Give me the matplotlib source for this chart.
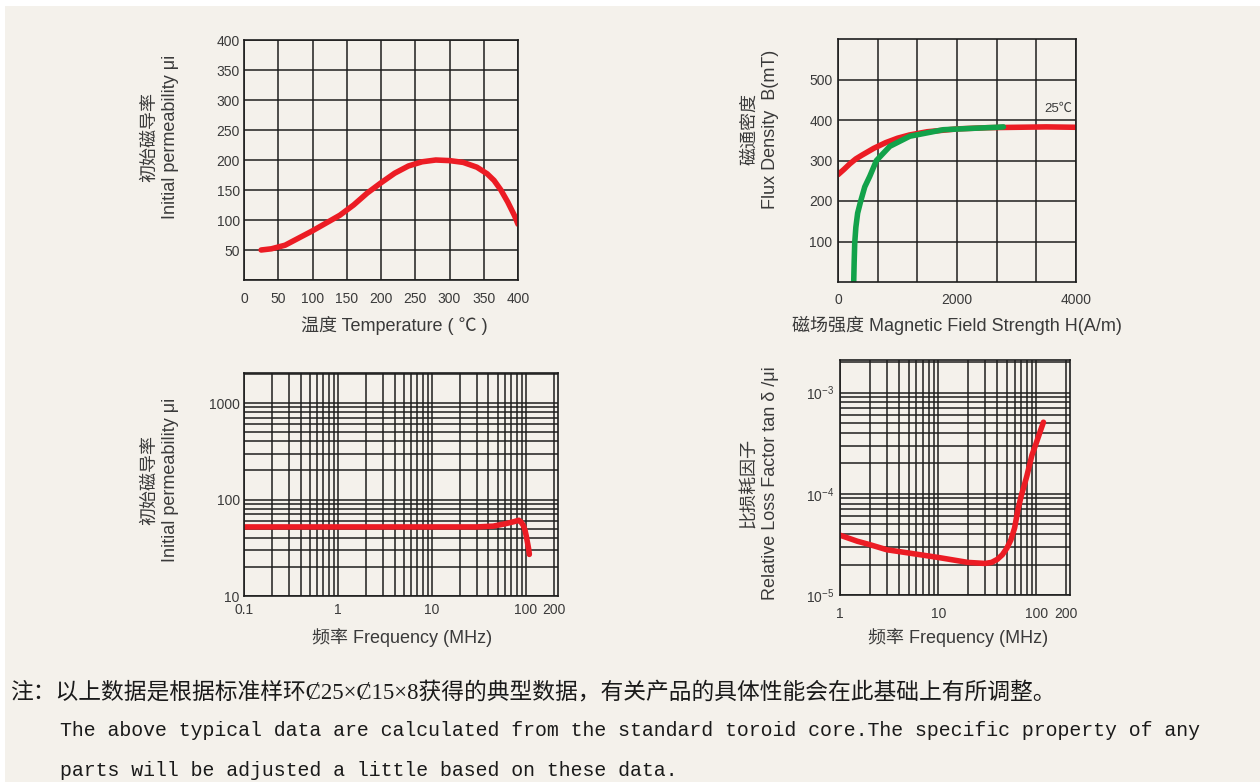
import matplotlib
matplotlib.use("Agg")
import matplotlib.pyplot as plt
from matplotlib.patches import Rectangle
from matplotlib.ticker import FixedLocator, LogLocator, NullFormatter, MultipleLocator

plt.rcParams["font.family"] = ["Liberation Sans", "Noto Sans CJK SC", "DejaVu Sans"]
plt.rcParams["mathtext.fontset"] = "custom"
plt.rcParams["mathtext.rm"] = "Liberation Sans"
plt.rcParams["mathtext.it"] = "Liberation Sans:italic"

W, H = 1260, 782
BG = "#f4f1eb"
GRID = "#1e1e1e"
TXT = "#3a3a3a"
RED = "#ec1c24"
GREEN = "#12a24a"

# permeability vs temperature
temp_c = [25, 40, 60, 80, 100, 120, 140, 160, 180, 200, 220, 240, 260, 280, 300,
          320, 340, 355, 365, 375, 385, 395, 400]
mu_temp = [50, 52, 58, 70, 82, 95, 108, 125, 145, 162, 178, 190, 197, 200, 199,
           196, 188, 177, 166, 150, 130, 107, 93]

# B-H curves at 25C
h_red = [0, 100, 200, 300, 400, 600, 800, 1000, 1200, 1500, 2000, 2500, 3000, 3500, 4000]
b_red = [265, 278, 292, 304, 313, 330, 344, 355, 363, 371, 378, 381, 382, 383, 382]
h_green = [264, 272, 281, 300, 330, 382, 450, 534, 646, 871, 1208, 1770, 2200, 2668, 2780]
b_green = [0, 50, 96, 135, 170, 200, 235, 261, 300, 335, 360, 376, 379, 382, 383]

# permeability vs frequency
freq_mu = [0.1, 1, 10, 30, 45, 60, 75, 84, 88, 94, 98, 101, 104, 107, 109]
mu_freq = [52, 52, 52, 52, 53, 56, 59, 61, 59, 54, 48, 42, 36, 31, 27]

# relative loss factor vs frequency
freq_loss = [1, 1.5, 2, 3, 5, 10, 20, 30, 35, 40, 45, 50, 55, 60, 65, 70, 75, 80, 90, 100, 110, 118]
loss = [3.9e-5, 3.4e-5, 3.15e-5, 2.8e-5, 2.6e-5, 2.35e-5, 2.1e-5, 2.05e-5, 2.1e-5, 2.25e-5,
        2.5e-5, 2.9e-5, 3.5e-5, 4.6e-5, 7.0e-5, 9.5e-5, 1.2e-4, 1.5e-4, 2.4e-4, 3.2e-4, 4.2e-4, 5.1e-4]

fig = plt.figure(figsize=(W / 100, H / 100), dpi=100, facecolor="white")
fig.patches.append(Rectangle((5 / W, 0), 1, 1 - 6 / H, transform=fig.transFigure,
                             facecolor=BG, edgecolor="none", zorder=-10))


def px_axes(left, top, right, bottom):
    ax = fig.add_axes([left / W, 1 - bottom / H, (right - left) / W, (bottom - top) / H])
    ax.set_facecolor(BG)
    for sp in ax.spines.values():
        sp.set_color(GRID)
        sp.set_linewidth(1.2)
    ax.tick_params(which="both", length=0, labelsize=10, labelcolor=TXT)
    return ax


def px_text(x, y, s, **kw):
    kw.setdefault("color", TXT)
    kw.setdefault("ha", "center")
    kw.setdefault("va", "center")
    fig.text(x / W, 1 - y / H, s, **kw)


line_kw = dict(linewidth=4.0, solid_capstyle="round", solid_joinstyle="round")
grid_kw = dict(color=GRID, linewidth=1.1)

# top left
ax1 = px_axes(244, 40, 518, 280)
ax1.set_xlim(0, 400)
ax1.set_ylim(0, 400)
ax1.xaxis.set_major_locator(MultipleLocator(50))
ax1.set_yticks(range(50, 401, 50))
ax1.yaxis.set_minor_locator(FixedLocator([0]))
ax1.grid(True, which="both", **grid_kw)
ax1.tick_params(axis="x", pad=9)
ax1.tick_params(axis="y", pad=3)
ax1.plot(temp_c, mu_temp, color=RED, **line_kw)
px_text(160, 137, "初始磁导率\nInitial permeability μi", rotation=90, fontsize=13, linespacing=1.25)
px_text(394, 325, "温度 Temperature ( ℃ )", fontsize=13)

# top right
ax2 = px_axes(838, 39, 1076, 282)
ax2.set_xlim(0, 4000)
ax2.set_ylim(0, 600)
ax2.set_xticks([0, 2000, 4000])
ax2.xaxis.set_minor_locator(FixedLocator([4000 / 6 * k for k in range(1, 6)]))
ax2.set_yticks([100, 200, 300, 400, 500])
ax2.grid(True, which="both", **grid_kw)
ax2.tick_params(axis="x", pad=8)
ax2.tick_params(axis="y", pad=4)
ax2.plot(h_red, b_red, color=RED, **line_kw)
ax2.plot(h_green, b_green, color=GREEN, **line_kw)
ax2.text(3700, 427, "25℃", fontsize=9.5, color=TXT, ha="center", va="center")
px_text(760, 129, "磁通密度\nFlux Density  B(mT)", rotation=90, fontsize=13, linespacing=1.25)
px_text(957, 325, "磁场强度 Magnetic Field Strength H(A/m)", fontsize=13)

# bottom left
ax3 = px_axes(244, 373, 558, 596)
ax3.set_xscale("log")
ax3.set_yscale("log")
ax3.set_xlim(0.1, 220)
ax3.set_ylim(10, 2050)
ax3.set_xticks([0.1, 1, 10, 100, 200])
ax3.set_xticklabels(["0.1", "1", "10", "100", "200"])
ax3.set_yticks([10, 100, 1000])
ax3.set_yticklabels(["10", "100", "1000"])
for a in (ax3.xaxis, ax3.yaxis):
    a.set_minor_locator(LogLocator(base=10, subs=range(2, 10), numticks=20))
    a.set_minor_formatter(NullFormatter())
ax3.grid(True, which="both", **grid_kw)
ax3.tick_params(axis="x", pad=5)
ax3.tick_params(axis="y", pad=3)
ax3.plot(freq_mu, mu_freq, color=RED, **line_kw)
px_text(160, 480, "初始磁导率\nInitial permeability μi", rotation=90, fontsize=13, linespacing=1.25)
px_text(402, 638, "频率 Frequency (MHz)", fontsize=13)

# bottom right
ax4 = px_axes(840, 360, 1070, 595)
ax4.set_xscale("log")
ax4.set_yscale("log")
ax4.set_xlim(1, 220)
ax4.set_ylim(1e-5, 2.1e-3)
ax4.set_xticks([1, 10, 100, 200])
ax4.set_xticklabels(["1", "10", "100", "200"])
ax4.set_yticks([1e-5, 1e-4, 1e-3])
ax4.set_yticklabels([r"$10^{-5}$", r"$10^{-4}$", r"$10^{-3}$"])
for a in (ax4.xaxis, ax4.yaxis):
    a.set_minor_locator(LogLocator(base=10, subs=range(2, 10), numticks=20))
    a.set_minor_formatter(NullFormatter())
ax4.grid(True, which="both", **grid_kw)
ax4.tick_params(axis="x", pad=9)
ax4.tick_params(axis="y", pad=4)
ax4.plot(freq_loss, loss, color=RED, **line_kw)
px_text(760, 483, "比损耗因子\nRelative Loss Factor tan δ /μi", rotation=90, fontsize=13, linespacing=1.25)
px_text(958, 638, "频率 Frequency (MHz)", fontsize=13)

# note below the charts
note_cn = "注：以上数据是根据标准样环Ȼ25×Ȼ15×8获得的典型数据，有关产品的具体性能会在此基础上有所调整。"
note_en1 = "The above typical data are calculated from the standard toroid core.The specific property of any"
note_en2 = "parts will be adjusted a little based on these data."
px_text(10, 692, note_cn, ha="left", fontsize=16.4, color="#1a1a1a",
        family=["Liberation Serif", "Noto Sans CJK SC", "DejaVu Sans"])
px_text(60, 731, note_en1, ha="left", fontsize=14.3, color="#1a1a1a",
        family=["Liberation Mono", "Noto Sans CJK SC"])
px_text(60, 770, note_en2, ha="left", fontsize=14.3, color="#1a1a1a",
        family=["Liberation Mono", "Noto Sans CJK SC"])

fig.savefig("out.png", dpi=100, facecolor="white")
